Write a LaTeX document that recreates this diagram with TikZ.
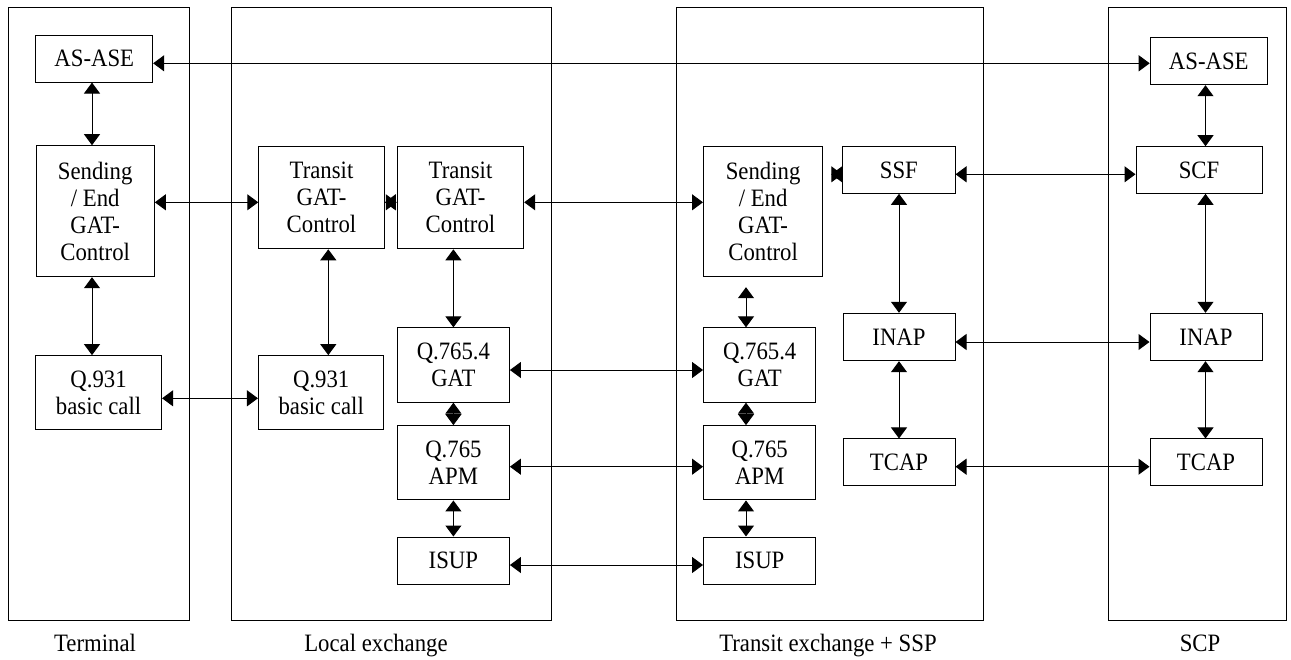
\documentclass[tikz,border=0pt]{standalone}
\usepackage{fontspec}
\setmainfont{Liberation Serif}[FakeStretch=0.91]
\usetikzlibrary{arrows.meta}
\begin{document}
\begin{tikzpicture}[x=1pt,y=-1pt,
  every node/.style={font=\fontsize{25}{27}\selectfont},
  box/.style={draw,line width=1pt,inner sep=0pt,align=center},
  cont/.style={draw,line width=1pt},
  dbl/.style={line width=1pt,{Triangle[length=11pt,width=16pt]}-{Triangle[length=11pt,width=16pt]}},
  lbl/.style={anchor=base}]
\useasboundingbox (0,0) rectangle (1291,659);
% containers
\draw[cont] (8,7.5) rectangle (189,620.7);
\draw[cont] (231,7.5) rectangle (551.5,620.7);
\draw[cont] (676,7.5) rectangle (983.5,620.7);
\draw[cont] (1108.5,7.5) rectangle (1286,620.7);
\node[lbl] (lterm) at (95,651) {Terminal};
\node[lbl] (lloc) at (376,651) {Local exchange};
\node[lbl] (ltr) at (828,651) {Transit exchange + SSP};
\node[lbl] (lscp) at (1200,651) {SCP};
% terminal
\node[box,minimum width=116.7pt,minimum height=46.7pt] (ase1) at (94.3,58.7) {AS-ASE};
\node[box,minimum width=118.3pt,minimum height=131pt] (send1) at (95.2,211.2) {Sending\\/ End\\GAT-\\Control};
\node[box,minimum width=126pt,minimum height=74.3pt] (q931a) at (98.6,392.8) {Q.931\\basic call};
% local
\node[box,minimum width=125.5pt,minimum height=102pt] (tr1) at (321.5,197.8) {Transit\\GAT-\\Control};
\node[box,minimum width=126.4pt,minimum height=102pt] (tr2) at (460.5,197.8) {Transit\\GAT-\\Control};
\node[box,minimum width=125.5pt,minimum height=74.3pt] (q931b) at (321.2,392.8) {Q.931\\basic call};
\node[box,minimum width=112pt,minimum height=74.3pt] (gat1) at (453.4,365) {Q.765.4\\GAT};
\node[box,minimum width=112pt,minimum height=74.3pt] (apm1) at (453.4,462.8) {Q.765\\APM};
\node[box,minimum width=112pt,minimum height=47pt] (isup1) at (453.4,560.5) {ISUP};
% transit
\node[box,minimum width=119.2pt,minimum height=130pt] (send2) at (763.1,211.7) {Sending\\/ End\\GAT-\\Control};
\node[box,minimum width=112.3pt,minimum height=74.3pt] (gat2) at (759.7,365) {Q.765.4\\GAT};
\node[box,minimum width=112.3pt,minimum height=74.3pt] (apm2) at (759.7,462.8) {Q.765\\APM};
\node[box,minimum width=112.3pt,minimum height=47pt] (isup2) at (759.7,560.5) {ISUP};
\node[box,minimum width=112.3pt,minimum height=46.6pt] (ssf) at (898.9,170) {SSF};
\node[box,minimum width=112pt,minimum height=47.4pt] (inap1) at (899,337) {INAP};
\node[box,minimum width=112pt,minimum height=46.7pt] (tcap1) at (899,462.3) {TCAP};
% scp
\node[box,minimum width=117.2pt,minimum height=47pt] (ase2) at (1208.8,61.2) {AS-ASE};
\node[box,minimum width=126pt,minimum height=46.6pt] (scf) at (1199,170) {SCF};
\node[box,minimum width=112pt,minimum height=47.4pt] (inap2) at (1206,337) {INAP};
\node[box,minimum width=112pt,minimum height=46.7pt] (tcap2) at (1206,462.3) {TCAP};
% row / column coordinates
\coordinate (r63) at (0,63.3);
\coordinate (r174) at (0,174.3);
\coordinate (r202) at (0,202.3);
\coordinate (r342) at (0,342);
\coordinate (r370) at (0,370);
\coordinate (r398) at (0,398.3);
\coordinate (r467) at (0,466.7);
\coordinate (r565) at (0,565);
\coordinate (c92) at (92,0);
\coordinate (c328) at (328.3,0);
\coordinate (c453) at (453.4,0);
\coordinate (c746) at (746,0);
\coordinate (c899) at (899,0);
\coordinate (c1205) at (1205.5,0);
% horizontal connectors
\draw[dbl] (ase1.east |- r63) -- (ase2.west |- r63);
\draw[dbl] (send1.east |- r202) -- (tr1.west |- r202);
\draw[dbl] (tr1.east |- r202) -- (tr2.west |- r202);
\draw[dbl] (tr2.east |- r202) -- (send2.west |- r202);
\draw[dbl,shorten <=8pt] (send2.east |- r174) -- (ssf.west |- r174);
\draw[dbl] (ssf.east |- r174) -- (scf.west |- r174);
\draw[dbl] (q931a.east |- r398) -- (q931b.west |- r398);
\draw[dbl] (gat1.east |- r370) -- (gat2.west |- r370);
\draw[dbl] (apm1.east |- r467) -- (apm2.west |- r467);
\draw[dbl] (isup1.east |- r565) -- (isup2.west |- r565);
\draw[dbl] (inap1.east |- r342) -- (inap2.west |- r342);
\draw[dbl] (tcap1.east |- r467) -- (tcap2.west |- r467);
% vertical connectors
\draw[dbl] (c92 |- ase1.south) -- (c92 |- send1.north);
\draw[dbl] (c92 |- send1.south) -- (c92 |- q931a.north);
\draw[dbl] (c328 |- tr1.south) -- (c328 |- q931b.north);
\draw[dbl] (c453 |- tr2.south) -- (c453 |- gat1.north);
\draw[dbl] (c453 |- gat1.south) -- (c453 |- apm1.north);
\draw[dbl] (c453 |- apm1.south) -- (c453 |- isup1.north);
\draw[dbl,shorten <=10pt] (c746 |- send2.south) -- (c746 |- gat2.north);
\draw[dbl] (c746 |- gat2.south) -- (c746 |- apm2.north);
\draw[dbl] (c746 |- apm2.south) -- (c746 |- isup2.north);
\draw[dbl] (c899 |- ssf.south) -- (c899 |- inap1.north);
\draw[dbl] (c899 |- inap1.south) -- (c899 |- tcap1.north);
\draw[dbl] (c1205 |- ase2.south) -- (c1205 |- scf.north);
\draw[dbl] (c1205 |- scf.south) -- (c1205 |- inap2.north);
\draw[dbl] (c1205 |- inap2.south) -- (c1205 |- tcap2.north);
\end{tikzpicture}
\end{document}
